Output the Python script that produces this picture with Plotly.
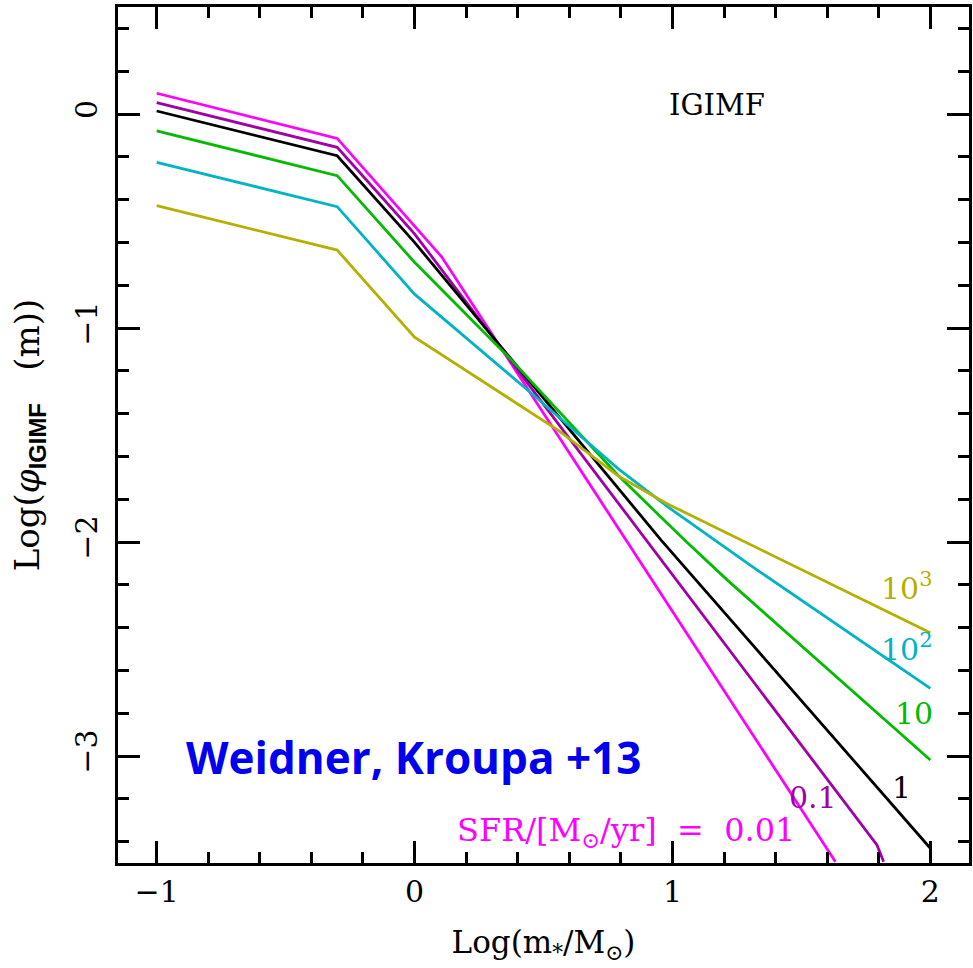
import plotly.graph_objects as go

# ---- data ----
x_sfr001 = [-1.0, -0.3, 0.105, 1.632]
y_sfr001 = [0.097, -0.114, -0.667, -3.494]

x_sfr01 = [-1.0, -0.3, 0.0, 1.767, 1.793, 1.819]
y_sfr01 = [0.053, -0.156, -0.560, -3.377, -3.416, -3.494]

x_sfr1 = [-1.0, -0.3, 0.0, 0.956, 2.0]
y_sfr1 = [0.014, -0.195, -0.600, -1.991, -3.431]

x_sfr10 = [-1.0, -0.3, 0.0, 0.376, 0.788, 1.046, 1.213, 2.0]
y_sfr10 = [-0.079, -0.288, -0.693, -1.150, -1.687, -1.990, -2.178, -3.019]

x_sfr100 = [-1.0, -0.3, 0.0, 0.453, 0.788, 0.981, 1.329, 2.0]
y_sfr100 = [-0.226, -0.433, -0.842, -1.305, -1.656, -1.835, -2.131, -2.684]

x_sfr1000 = [-1.0, -0.3, 0.0, 0.556, 0.788, 0.904, 0.981, 2.0]
y_sfr1000 = [-0.428, -0.636, -1.043, -1.477, -1.690, -1.770, -1.822, -2.424]

series = [
    ("0.01", x_sfr001, y_sfr001, "#ff00ff"),
    ("0.1", x_sfr01, y_sfr01, "#a000a8"),
    ("1", x_sfr1, y_sfr1, "#000000"),
    ("10", x_sfr10, y_sfr10, "#00bb00"),
    ("100", x_sfr100, y_sfr100, "#00b4c4"),
    ("1000", x_sfr1000, y_sfr1000, "#b4b000"),
]

x_ticks = [-1, 0, 1, 2]
x_ticklabels = ["\u22121", "0", "1", "2"]
y_ticks = [-3, -2, -1, 0]
y_ticklabels = ["\u22123", "\u22122", "\u22121", "0"]

SERIF = "DejaVu Serif"
NB = "\u00a0"

fig = go.Figure()
for name, xs, ys, col in series:
    fig.add_trace(go.Scatter(x=xs, y=ys, mode="lines", name=name,
                             line=dict(color=col, width=2.8), showlegend=False))

axis_common = dict(
    showline=True, linewidth=3, linecolor="black", mirror="ticks",
    ticks="inside", ticklen=22, tickwidth=3, tickcolor="black",
    showgrid=False, zeroline=False,
    tickfont=dict(family=SERIF, size=30, color="black"),
)

fig.update_xaxes(range=[-1.15, 2.15], tickvals=x_ticks, ticktext=x_ticklabels,
                 minor=dict(ticks="inside", ticklen=11, tickwidth=3, tickcolor="black",
                            dtick=0.2, tick0=0, showgrid=False),
                 title=dict(text="Log(m<sub>*</sub>/M<sub>\u2299</sub>)",
                            font=dict(family=SERIF, size=31, color="black"), standoff=24),
                 **axis_common)
fig.update_yaxes(range=[-3.5, 0.5], tickvals=y_ticks, ticktext=y_ticklabels, tickangle=-90,
                 ticklabelstandoff=6,
                 minor=dict(ticks="inside", ticklen=11, tickwidth=3, tickcolor="black",
                            dtick=0.2, tick0=0, showgrid=False),
                 title=dict(text="Log(<i>\u03c6</i><sub><b><span style='font-family:Liberation Sans'>IGIMF</span></b></sub>" + NB * 3 + "(m))",
                            font=dict(family=SERIF, size=34, color="black"), standoff=20),
                 **axis_common)

ann = [
    dict(x=1.171, y=0.042, text="IGIMF", color="black", size=29, family=SERIF, xanchor="center"),
    dict(x=-0.005, y=-3.005, text="<b>Weidner, Kroupa +13</b>", color="#0000f0", size=44, family="Open Sans", xanchor="center"),
    dict(x=0.155, y=-3.355, text="SFR/[M<sub>\u2299</sub>/yr]" + NB * 2 + "=" + NB * 2 + "0.01", color="#ff00ff", size=32, family=SERIF, xanchor="left"),
    dict(x=1.546, y=-3.196, text="0.1", color="#a000a8", size=30, family=SERIF, xanchor="center"),
    dict(x=1.889, y=-3.145, text="1", color="black", size=30, family=SERIF, xanchor="center"),
    dict(x=1.936, y=-2.80, text="10", color="#00bb00", size=30, family=SERIF, xanchor="center"),
    dict(x=1.909, y=-2.495, text="10<sup>2</sup>", color="#00b4c4", size=30, family=SERIF, xanchor="center"),
    dict(x=1.909, y=-2.206, text="10<sup>3</sup>", color="#b4b000", size=30, family=SERIF, xanchor="center"),
]
for a in ann:
    fig.add_annotation(x=a["x"], y=a["y"], xref="x", yref="y", text=a["text"], showarrow=False,
                       xanchor=a["xanchor"], yanchor="middle",
                       font=dict(family=a["family"], size=a["size"], color=a["color"]))

fig.update_layout(
    width=973, height=968,
    margin=dict(l=118, r=1, t=7, b=105),
    paper_bgcolor="white", plot_bgcolor="white",
)

fig.write_html("out.html")
